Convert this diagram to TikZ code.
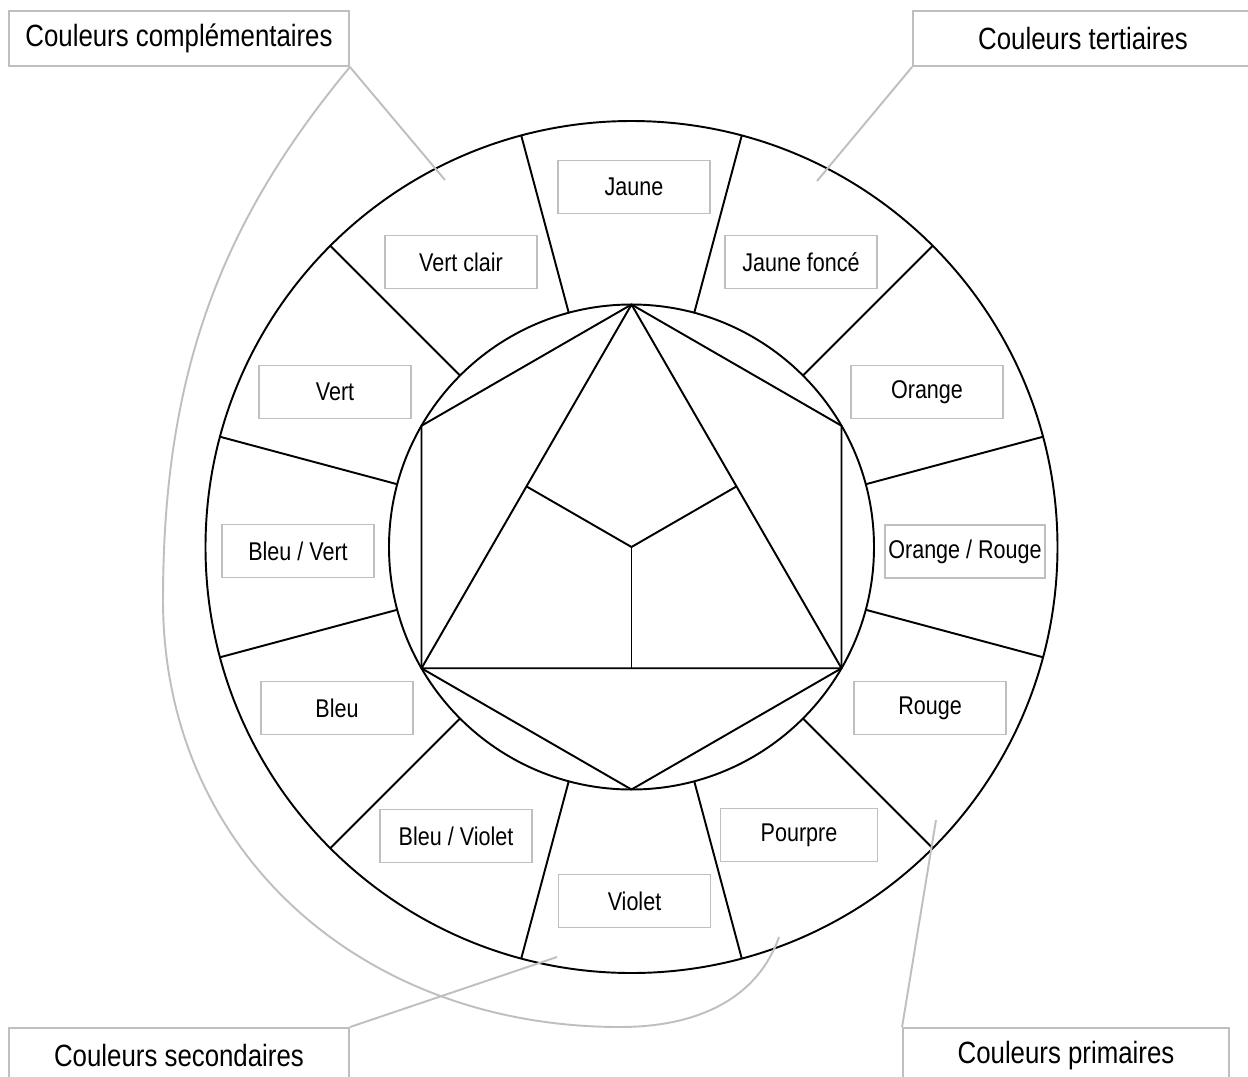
\documentclass[tikz,border=0pt]{standalone}
\usepackage{fontspec}
\setmainfont{Liberation Sans}[FakeStretch=0.84]
\usetikzlibrary{positioning}

\definecolor{boxgray}{HTML}{BFBFBF}

\tikzset{
  wheel/.style={line width=1.1pt, black, line join=round},
  colorbox/.style={draw=boxgray, line width=1.1pt, minimum width=3.04cm, minimum height=1.06cm,
    inner xsep=2pt, font=\fontsize{14.6}{17}\selectfont},
  titlebox/.style={draw=boxgray, line width=1.1pt, minimum width=6.8cm, minimum height=1.1cm,
    font=\fontsize{17.5}{20}\selectfont},
  leader/.style={draw=boxgray, line width=1.1pt}
}

\begin{document}
\begin{tikzpicture}[x=0.02cm, y=-0.02cm]
  \useasboundingbox (0,0) rectangle (1248,1076);
  \coordinate (O) at (631.5,547);

  % wheel
  \draw[wheel] (O) circle[radius=426];
  \draw[wheel] (O) circle[radius=242.5];
  \foreach \a in {15,45,...,345}
    \draw[wheel] (O) ++(\a:242.5) -- ++(\a:183.5);

  % hexagon and triangle
  \coordinate (T) at (631.5,304.5);
  \coordinate (UR) at (841.5,425.75);
  \coordinate (LR) at (841.5,668.25);
  \coordinate (B) at (631.5,789.5);
  \coordinate (LL) at (421.5,668.25);
  \coordinate (UL) at (421.5,425.75);
  \coordinate (ML) at (526.5,486.4);
  \coordinate (MR) at (736.5,486.4);
  \coordinate (MB) at (631.5,668.25);
  \draw[wheel] (T) -- (UR) -- (LR) -- (B) -- (LL) -- (UL) -- cycle;
  \draw[wheel] (T) -- (LL) -- (LR) -- cycle;
  \draw[wheel] (O) -- (ML);
  \draw[wheel] (O) -- (MR);
  \draw[wheel] (O) -- (MB);

  % colour names
  \node[colorbox] (jaune) at (634,187) {Jaune};
  \node[colorbox] (jaunef) at (801,262) {Jaune foncé};
  \node[colorbox] (orange) at (927,392) {Orange};
  \node[colorbox] (orrouge) at (965,551.5) {Orange / Rouge};
  \node[colorbox] (rouge) at (930,708) {Rouge};
  \node[colorbox, minimum width=3.14cm] (pourpre) at (799,835) {Pourpre};
  \node[colorbox] (violet) at (634.5,901) {Violet};
  \node[colorbox] (bviolet) at (456,836) {Bleu / Violet};
  \node[colorbox] (bleu) at (337,708) {Bleu};
  \node[colorbox] (bvert) at (298,551) {Bleu / Vert};
  \node[colorbox] (vert) at (335,392) {Vert};
  \node[colorbox] (vclair) at (461,262) {Vert clair};

  % groups
  \node[titlebox] (compl) at (179,38.5) {Couleurs complémentaires};
  \node[titlebox] (tert) at (1083,38.5) {Couleurs tertiaires};
  \node[titlebox] (second) at (179,1055.5) {Couleurs secondaires};
  \node[titlebox, minimum width=6.52cm] (prim) at (1066,1055.5) {Couleurs primaires};

  \coordinate (compltip) at (445,180);
  \coordinate (compltip2) at (779,937);
  \coordinate (terttip) at (817,181);
  \coordinate (secondtip) at (557,957);
  \coordinate (primtip) at (936,820);

  \draw[leader] (compl.south east) -- (compltip);
  \draw[leader] (compl.south east) .. controls (223,220) and (163,370) .. (163,600)
    .. controls (163,850) and (360,1027) .. (620,1027)
    .. controls (700,1027) and (758,997) .. (compltip2);
  \draw[leader] (tert.south west) -- (terttip);
  \draw[leader] (second.north east) -- (secondtip);
  \draw[leader] (prim.north west) -- (primtip);
\end{tikzpicture}
\end{document}
